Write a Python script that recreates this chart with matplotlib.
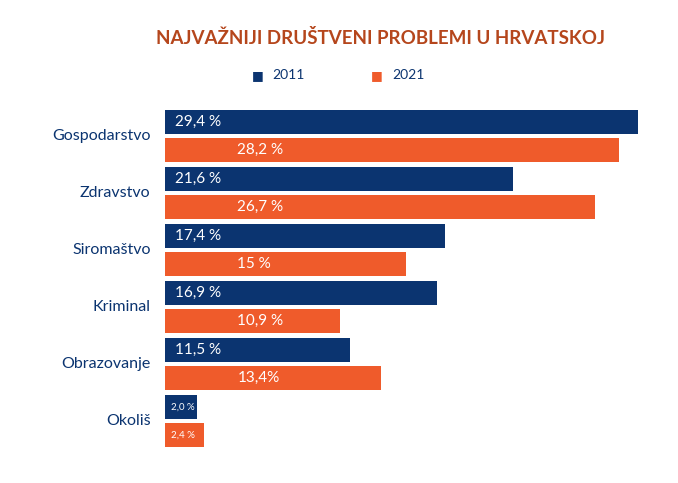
import matplotlib.pyplot as plt
import numpy as np

plt.rcParams['font.family'] = ['Lato', 'DejaVu Sans']

categories = ["Gospodarstvo", "Zdravstvo", "Siromaštvo", "Kriminal", "Obrazovanje", "Okoliš"]
values_2011 = [29.4, 21.6, 17.4, 16.9, 11.5, 2.0]
values_2021 = [28.2, 26.7, 15.0, 10.9, 13.4, 2.4]
labels_2011 = ["29,4 %", "21,6 %", "17,4 %", "16,9 %", "11,5 %", "2,0 %"]
labels_2021 = ["28,2 %", "26,7 %", "15 %", "10,9 %", "13,4%", "2,4 %"]

NAVY = "#0b3470"
ORANGE = "#ef5b2b"

W, H = 678, 483
fig = plt.figure(figsize=(W / 100, H / 100), dpi=100)
ax = fig.add_axes([165 / W, 1 - 455 / H, 490 / W, 355 / H])

pitch = 57
idx = np.arange(len(categories))
y1 = 122 + idx * pitch
y2 = 150 + idx * pitch
ax.barh(y1, values_2011, height=24, color=NAVY)
ax.barh(y2, values_2021, height=24, color=ORANGE)

for i in idx:
    small = values_2011[i] < 5
    fs = 7 if small else 11
    ax.text(0.35 if small else 0.6, y1[i], labels_2011[i], color="white", va="center", fontsize=fs)
    ax.text(0.35 if small else 4.5, y2[i], labels_2021[i], color="white", va="center", fontsize=fs)
    ax.text(-0.9, (y1[i] + y2[i]) / 2, categories[i], color=NAVY, ha="right", va="center", fontsize=11.5)

ax.set_xlim(0, 30.45)
ax.set_ylim(455, 100)
ax.axis("off")

fig.text(380 / W, 1 - 38 / H, "NAJVAŽNIJI DRUŠTVENI PROBLEMI U HRVATSKOJ", color="#b5461c",
         fontsize=13.5, fontweight="bold", ha="center", va="center")
fig.text(258 / W, 1 - 75 / H, "■", color=NAVY, fontsize=9, ha="center", va="center")
fig.text(272 / W, 1 - 75 / H, "2011", color=NAVY, fontsize=10, ha="left", va="center")
fig.text(377 / W, 1 - 75 / H, "■", color=ORANGE, fontsize=9, ha="center", va="center")
fig.text(392 / W, 1 - 75 / H, "2021", color=NAVY, fontsize=10, ha="left", va="center")

fig.savefig("out.png", dpi=100)
